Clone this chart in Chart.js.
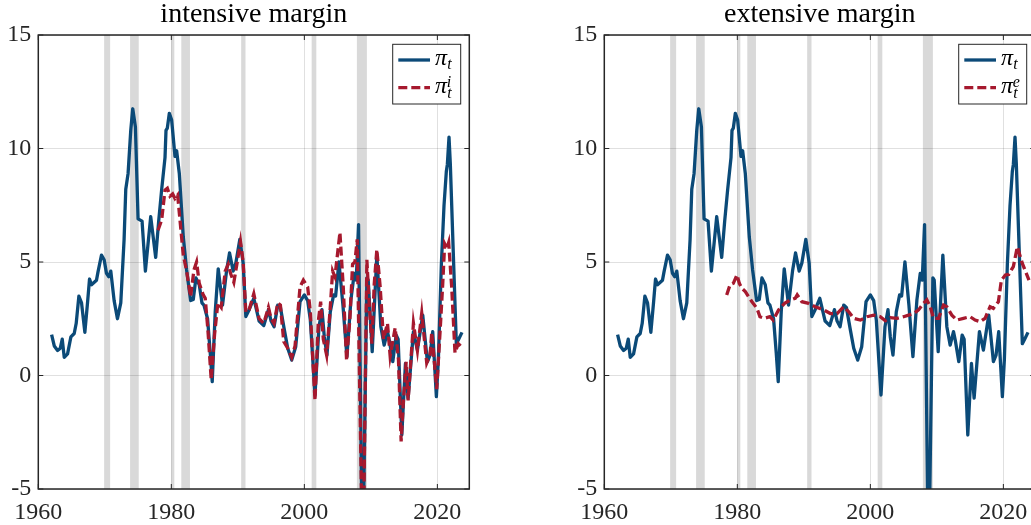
<!DOCTYPE html>
<html>
<head>
<meta charset="utf-8">
<script src="https://cdn.jsdelivr.net/npm/chart.js@4.4.1/dist/chart.umd.min.js"></script>
<style>
html, body { margin:0; padding:0; background:#fff; overflow:hidden; width:1031px; height:525px; }
.panel { position:absolute; top:0; width:520px; height:525px; }
</style>
</head>
<body>
<div class="panel" style="left:0;"><canvas id="chart-intensive"></canvas></div>
<div class="panel" style="left:566px;"><canvas id="chart-extensive"></canvas></div>
<script>
/* ── DATA ── */

// headline inflation pi_t (shared by both panels)
var piYears = [
  1962.0, 1962.4, 1962.9, 1963.3, 1963.6, 1963.9, 1964.4, 1964.9, 1965.4, 1965.7,
  1966.1, 1966.5, 1967.0, 1967.4, 1967.7, 1968.0, 1968.75, 1969.0, 1969.5, 1969.9,
  1970.25, 1970.6, 1970.9, 1971.4, 1971.9, 1972.4, 1972.9, 1973.15, 1973.5, 1973.9,
  1974.2, 1974.6, 1975.0, 1975.6, 1976.1, 1976.9, 1977.65, 1978.1, 1978.55, 1979.05,
  1979.2, 1979.4, 1979.7, 1980.05, 1980.55, 1980.8, 1981.2, 1981.8, 1982.3, 1982.9,
  1983.3, 1983.7, 1984.2, 1984.6, 1984.9, 1985.45, 1985.85, 1986.15, 1986.6, 1987.05,
  1987.7, 1988.3, 1988.75, 1989.3, 1989.7, 1990.3, 1990.8, 1991.2, 1991.7, 1992.4,
  1993.2, 1993.9, 1994.6, 1995.0, 1995.45, 1996.0, 1996.4, 1997.0, 1997.5, 1998.1,
  1998.7, 1999.35, 2000.0, 2000.5, 2000.9, 2001.6, 2002.2, 2002.65, 2003.0, 2003.4,
  2003.9, 2004.4, 2004.7, 2005.2, 2005.8, 2006.4, 2007.0, 2007.5, 2007.8, 2008.15,
  2008.75, 2009.4, 2009.6, 2010.2, 2010.9, 2011.5, 2012.0, 2012.5, 2012.8, 2013.3,
  2013.8, 2014.1, 2014.65, 2015.2, 2015.6, 2016.4, 2017.0, 2017.8, 2018.5, 2018.9,
  2019.3, 2019.85, 2020.15, 2020.6, 2021.0, 2021.35, 2021.5, 2021.75, 2021.95, 2022.45,
  2022.85, 2023.2, 2023.7
];
var piValues = [
  1.8, 1.3, 1.1, 1.2, 1.6, 0.8, 0.95, 1.7, 1.85, 2.3,
  3.5, 3.2, 1.9, 3.2, 4.25, 4.0, 4.2, 4.6, 5.3, 5.1,
  4.5, 4.35, 4.6, 3.3, 2.5, 3.2, 6.0, 8.2, 8.9, 10.8,
  11.75, 10.95, 6.9, 6.8, 4.6, 7.0, 5.2, 6.8, 8.2, 9.6,
  10.8, 10.9, 11.55, 11.25, 9.65, 9.9, 8.9, 6.1, 4.65, 3.3,
  3.35, 4.3, 4.0, 3.2, 3.1, 2.5, 1.0, -0.27, 2.8, 4.7,
  3.1, 4.6, 5.4, 4.6, 4.95, 6.0, 4.95, 2.6, 2.9, 3.4,
  2.4, 2.2, 2.9, 2.4, 2.15, 3.1, 3.0, 2.0, 1.2, 0.68,
  1.27, 3.25, 3.55, 3.3, 2.44, -0.86, 2.15, 2.9, 1.7, 0.9,
  2.8, 3.55, 3.5, 5.0, 3.1, 0.83, 3.33, 4.5, 4.2, 6.65,
  -9.0, 4.3, 4.2, 1.05, 5.3, 2.15, 1.34, 1.93, 1.5, 0.61,
  1.78, 1.6, -2.62, 0.53, -1.0, 1.93, 1.12, 2.66, 0.61, 0.9,
  1.93, -0.93, 0.7, 4.9, 7.5, 9.0, 9.3, 10.5, 9.3, 4.9,
  1.4, 1.6, 1.9
];

// intensive margin pi_t^i
var piIYears = [
  1978.0, 1978.55, 1979.05, 1979.4, 1979.8, 1980.2, 1980.55, 1980.95, 1981.3, 1981.8,
  1982.3, 1982.9, 1983.4, 1983.8, 1984.2, 1984.8, 1985.1, 1985.5, 1986.0, 1986.5,
  1987.0, 1987.5, 1988.1, 1988.55, 1988.9, 1989.4, 1989.8, 1990.4, 1990.8, 1991.2,
  1991.7, 1992.4, 1993.2, 1993.9, 1994.6, 1995.0, 1995.45, 1996.0, 1996.4, 1996.9,
  1997.5, 1998.1, 1998.6, 1999.35, 1999.85, 2000.5, 2000.9, 2001.6, 2002.1, 2002.45,
  2002.85, 2003.35, 2003.85, 2004.25, 2004.6, 2005.35, 2005.85, 2006.35, 2006.85, 2007.25,
  2007.6, 2007.95, 2008.8, 2009.4, 2009.8, 2010.15, 2010.5, 2010.9, 2011.4, 2011.9,
  2012.5, 2012.9, 2013.65, 2014.15, 2014.55, 2014.9, 2015.3, 2015.6, 2016.4, 2017.0,
  2017.65, 2018.4, 2018.9, 2019.15, 2019.9, 2020.4, 2020.8, 2021.1, 2021.45, 2021.7,
  2022.15, 2022.65, 2023.15, 2023.5
];
var piIValues = [
  6.4, 6.85, 8.17, 8.25, 7.9, 8.0, 7.8, 7.95, 6.85, 5.3,
  4.6, 3.47, 4.65, 5.0, 4.06, 3.55, 3.4, 2.0, -0.2, 1.8,
  3.2, 3.0, 4.6, 4.9, 4.5, 4.1, 4.8, 5.9, 5.0, 2.8,
  2.9, 3.6, 2.5, 2.3, 3.0, 2.5, 2.3, 3.2, 3.1, 1.5,
  1.2, 0.8, 1.3, 3.9, 4.2, 3.9, 2.8, -1.1, 2.4, 3.25,
  1.6, 0.9, 2.8, 4.6, 4.35, 6.3, 3.9, 0.65, 2.5, 4.9,
  5.0, 6.0, -9.0, 5.1, 2.9, 1.4, 4.0, 5.55, 3.9, 1.6,
  2.3, 0.85, 2.1, 0.7, -2.9, -1.1, 0.6, -1.1, 2.3, 1.1,
  2.75, 0.55, 0.9, 1.9, -0.6, 1.9, 4.0, 5.8, 5.6, 5.85,
  3.9, 1.0, 1.4, 1.3
];

// extensive margin pi_t^e
var piEYears = [
  1978.4, 1978.9, 1979.4, 1979.95, 1980.3, 1980.7, 1981.2, 1981.7, 1982.2, 1982.95,
  1983.4, 1984.1, 1984.9, 1985.4, 1986.2, 1987.1, 1988.0, 1988.7, 1989.0, 1989.7,
  1990.7, 1991.7, 1993.0, 1994.0, 1995.0, 1996.0, 1996.75, 1997.5, 1998.5, 1999.5,
  2000.5, 2001.5, 2002.25, 2003.0, 2004.0, 2005.0, 2005.75, 2006.5, 2007.25, 2008.0,
  2008.5, 2009.0, 2009.5, 2010.25, 2011.0, 2011.5, 2012.25, 2013.0, 2014.0, 2015.0,
  2015.75, 2016.5, 2017.25, 2018.0, 2018.5, 2019.25, 2019.7, 2020.3, 2020.8, 2021.2,
  2021.5, 2022.1, 2022.85, 2023.85
];
var piEValues = [
  3.55, 3.99, 4.06, 4.43, 4.06, 3.84, 3.7, 3.47, 3.25, 2.96,
  2.59, 2.52, 2.59, 2.44, 2.89, 3.18, 3.33, 3.4, 3.55, 3.25,
  3.18, 3.03, 2.89, 2.73, 2.73, 3.03, 2.81, 2.52, 2.44, 2.59,
  2.66, 2.59, 2.41, 2.55, 2.52, 2.59, 2.66, 2.73, 2.89, 3.18,
  3.33, 3.03, 2.52, 2.52, 3.1, 3.03, 2.66, 2.44, 2.52, 2.59,
  2.44, 2.37, 2.52, 3.03, 2.96, 3.25, 4.2, 4.43, 4.45, 4.65,
  4.8, 5.67, 4.94, 4.2
];

// NBER recessions (shaded)
var recessionStarts = [1969.9, 1973.8, 1980.0, 1981.5, 1990.5, 2001.1, 2007.9];
var recessionEnds   = [1970.8, 1975.1, 1980.45, 1982.8, 1991.15, 2001.8, 2009.4];

var xTickValues = [1960, 1980, 2000, 2020];
var yTickValues = [-5, 0, 5, 10, 15];

/* ── STYLE ── */
var BLUE = '#0b4a78';
var RED = '#a6192e';
var AXIS = '#262626';
var FONT = '"Liberation Serif", "Times New Roman", serif';
var LINE_W = 3.3;

function toPoints(xs, ys){
  return xs.map(function(x, i){ return {x: x, y: ys[i]}; });
}

/* ── Recession bands (under the grid) ── */
var bandsPlugin = {
  id: 'bands',
  beforeDraw: function(chart){
    var c = chart.ctx, a = chart.chartArea, xs = chart.scales.x;
    c.save();
    c.beginPath(); c.rect(a.left, a.top, a.right - a.left, a.bottom - a.top); c.clip();
    c.fillStyle = '#d9d9d9';
    recessionStarts.forEach(function(s, i){
      var x0 = xs.getPixelForValue(s), x1 = xs.getPixelForValue(recessionEnds[i]);
      c.fillRect(x0, a.top, x1 - x0, a.bottom - a.top);
    });
    c.restore();
  }
};

/* ── Box, inner ticks, title, legend ── */
function framePlugin(title, sup){
  return {
    id: 'frame',
    afterDraw: function(chart){
      var c = chart.ctx, a = chart.chartArea;
      var xs = chart.scales.x, ys = chart.scales.y;
      c.save();

      // box + inward ticks on all four sides
      c.strokeStyle = AXIS;
      c.lineWidth = 1.5;
      c.strokeRect(a.left, a.top, a.right - a.left, a.bottom - a.top);
      c.lineWidth = 1;
      c.beginPath();
      xTickValues.forEach(function(v){
        var px = xs.getPixelForValue(v);
        c.moveTo(px, a.bottom); c.lineTo(px, a.bottom - 5);
        c.moveTo(px, a.top); c.lineTo(px, a.top + 5);
      });
      yTickValues.forEach(function(v){
        var py = ys.getPixelForValue(v);
        c.moveTo(a.left, py); c.lineTo(a.left + 5, py);
        c.moveTo(a.right, py); c.lineTo(a.right - 5, py);
      });
      c.stroke();

      // title
      c.fillStyle = '#000';
      c.font = '28px ' + FONT;
      c.textAlign = 'center';
      c.textBaseline = 'alphabetic';
      c.fillText(title, (a.left + a.right) / 2, 22);

      // legend
      var lx = a.right - 76.6, ly = a.top + 9.3;
      c.fillStyle = '#fff';
      c.fillRect(lx, ly, 68, 59.7);
      c.strokeStyle = AXIS;
      c.lineWidth = 1;
      c.strokeRect(lx, ly, 68, 59.7);

      c.lineWidth = LINE_W;
      c.strokeStyle = BLUE;
      c.beginPath(); c.moveTo(lx + 5.6, ly + 15.7); c.lineTo(lx + 37.3, ly + 15.7); c.stroke();
      c.strokeStyle = RED;
      c.setLineDash([9, 4]);
      c.beginPath(); c.moveTo(lx + 5.6, ly + 43.4); c.lineTo(lx + 37.3, ly + 43.4); c.stroke();
      c.setLineDash([]);

      c.fillStyle = '#000';
      c.textAlign = 'left';
      c.font = 'italic 24px ' + FONT;
      c.fillText('\u03C0', lx + 42.3, ly + 20.7);
      c.fillText('\u03C0', lx + 42.3, ly + 49);
      c.font = 'italic 16px ' + FONT;
      c.fillText('t', lx + 54.5, ly + 24.5);
      c.fillText('t', lx + 54.5, ly + 54);
      c.fillText(sup, lx + 54, ly + 42.7);

      c.restore();
    }
  };
}

/* ── Panel ── */
function makePanel(canvasId, title, altYears, altValues, altSup){
  var ctx = document.getElementById(canvasId).getContext('2d');
  var tickFont = { family: FONT, size: 24 };
  return new Chart(ctx, {
    type: 'line',
    data: {
      datasets: [
        {
          label: altSup, data: toPoints(altYears, altValues),
          borderColor: RED, borderWidth: LINE_W, borderDash: [9, 4],
          pointRadius: 0, tension: 0, fill: false, clip: 0, order: 0
        },
        {
          label: 'pi', data: toPoints(piYears, piValues),
          borderColor: BLUE, borderWidth: LINE_W,
          pointRadius: 0, tension: 0, fill: false, clip: 0, order: 1,
          borderJoinStyle: 'round'
        }
      ]
    },
    options: {
      responsive: true,
      maintainAspectRatio: false,
      animation: false,
      devicePixelRatio: 1,
      layout: { padding: { top: 35, right: 520 - 469.3, left: 0, bottom: 0 } },
      plugins: { legend: { display: false }, title: { display: false }, tooltip: { enabled: false } },
      scales: {
        x: {
          type: 'linear', min: 1960, max: 2024.8,
          afterBuildTicks: function(s){ s.ticks = xTickValues.map(function(v){ return {value: v}; }); },
          afterFit: function(s){ s.height = 36; },
          ticks: { font: tickFont, color: AXIS, padding: 9, maxRotation: 0, autoSkip: false,
                   callback: function(v){ return String(v); } },
          grid: { color: 'rgba(0,0,0,0.12)', lineWidth: 1, drawTicks: false },
          border: { display: false }
        },
        y: {
          min: -5, max: 15,
          afterBuildTicks: function(s){ s.ticks = yTickValues.map(function(v){ return {value: v}; }); },
          afterFit: function(s){ s.width = 38.3; },
          ticks: { font: tickFont, color: AXIS, padding: 7,
                   callback: function(v){ return String(v); } },
          grid: { color: 'rgba(0,0,0,0.12)', lineWidth: 1, drawTicks: false },
          border: { display: false }
        }
      }
    },
    plugins: [bandsPlugin, framePlugin(title, altSup)]
  });
}

makePanel('chart-intensive', 'intensive margin', piIYears, piIValues, 'i');
makePanel('chart-extensive', 'extensive margin', piEYears, piEValues, 'e');
</script>
</body>
</html>
